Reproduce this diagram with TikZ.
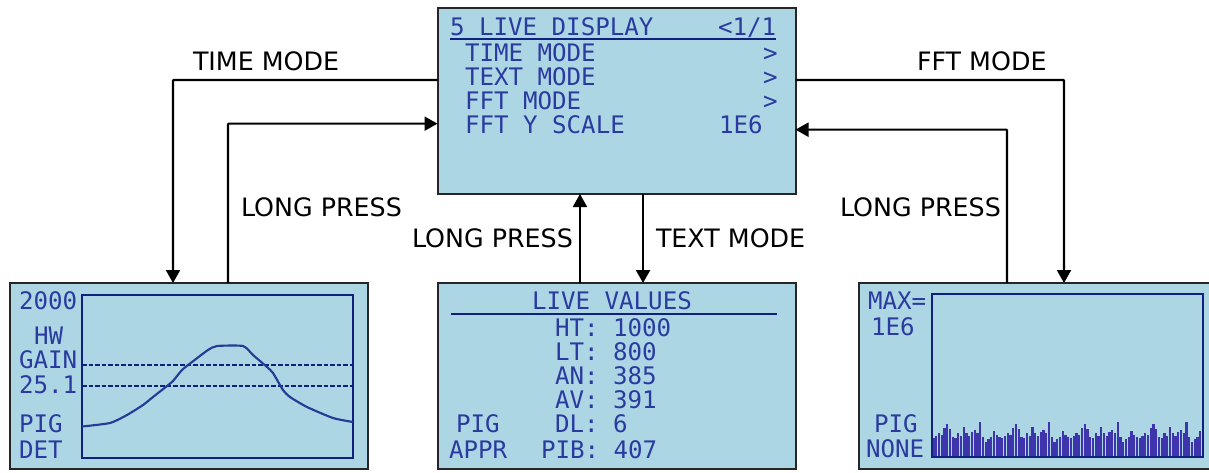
\documentclass[tikz,border=0pt]{standalone}
\usepackage{fontspec}
\setmainfont{DejaVu Sans}
\setmonofont{DejaVu Sans Mono}
\usetikzlibrary{arrows.meta}
\definecolor{lcdbg}{RGB}{173,214,229}
\definecolor{lcdink}{RGB}{42,58,158}
\definecolor{navyline}{RGB}{18,32,125}
\definecolor{curveink}{RGB}{36,60,150}
\definecolor{barink}{RGB}{62,52,172}
\tikzset{
  x=0.75pt,y=-0.75pt,
  panel/.style={draw=black!85,line width=1.5pt,fill=lcdbg,minimum width=268.5pt,minimum height=139.5pt,inner sep=0pt,outer sep=0pt},
  lcd/.style={anchor=base west,inner sep=0pt,outer sep=0pt,text=lcdink,font=\ttfamily\fontsize{18.1pt}{20pt}\selectfont},
  lab/.style={anchor=base west,inner sep=0pt,outer sep=0pt,text=black,font=\fontsize{19pt}{22pt}\selectfont},
  conn/.style={line width=1.6pt,draw=black,rounded corners=0.5pt},
  arrowed/.style={conn,-{Triangle[length=9.75pt,width=10.5pt]}},
  frame/.style={draw=navyline,line width=1.3pt},
  rulel/.style={draw=navyline,line width=1.2pt},
  dashl/.style={draw=navyline,line width=1.2pt,dash pattern=on 3.4pt off 1.5pt},
  curve/.style={draw=curveink,line width=1.6pt,line join=round},
  barl/.style={draw=barink,line width=1.8pt}
}
\newcommand{\lcdtext}[4]{\node[lcd] (#1) at (#2,#3) {#4};}
\newcommand{\labtext}[4]{\node[lab] (#1) at (#2,#3) {#4};}
\begin{document}
\begin{tikzpicture}
\clip (0,0) rectangle (1209,472);
\fill[white] (0,0) rectangle (1209,472);
% panels
\node[panel] (top) at (616.5,101) {};
\node[panel] (left) at (189,376) {};
\node[panel] (mid) at (616.5,376) {};
\node[panel] (right) at (1038,376) {};
% connector ends
\coordinate (tlA) at ([yshift=15.75pt]top.west);
\coordinate (tlB) at ([yshift=-17pt]top.west);
\coordinate (trA) at ([yshift=15.75pt]top.east);
\coordinate (trB) at ([yshift=-21.5pt]top.east);
\coordinate (lA) at ([xshift=-12pt]left.north);
\coordinate (lB) at ([xshift=29.25pt]left.north);
\coordinate (mA) at ([xshift=-27.4pt]mid.north);
\coordinate (mB) at ([xshift=19.9pt]mid.north);
\coordinate (tA) at ([xshift=-27.4pt]top.south);
\coordinate (tB) at ([xshift=19.9pt]top.south);
\coordinate (rA) at ([xshift=-23.25pt]right.north);
\coordinate (rB) at ([xshift=19.5pt]right.north);
% connectors
\draw[arrowed] (tlA) -| (lA);
\draw[arrowed] (lB) |- (tlB);
\draw[arrowed] (mA) -- (tA);
\draw[arrowed] (tB) -- (mB);
\draw[arrowed] (trA) -| (rB);
\draw[arrowed] (rA) |- (trB);
% connector labels
\labtext{lbTime}{193}{70}{TIME MODE}
\labtext{lbLongL}{241}{216}{LONG PRESS}
\labtext{lbLongM}{412}{247}{LONG PRESS}
\labtext{lbText}{656}{247}{TEXT MODE}
\labtext{lbFft}{917}{70}{FFT MODE}
\labtext{lbLongR}{840}{216}{LONG PRESS}
% top panel
\lcdtext{a1}{450}{35}{5 LIVE DISPLAY}
\lcdtext{a2}{718}{35}{<1/1}
\draw[rulel] (450,38.7) -- (776,38.7);
\lcdtext{a3}{465}{61}{TIME MODE}
\lcdtext{a4}{465}{85}{TEXT MODE}
\lcdtext{a5}{465}{109}{FFT MODE}
\lcdtext{a6}{465}{133}{FFT Y SCALE}
\lcdtext{a7}{763}{61}{>}
\lcdtext{a8}{763}{85}{>}
\lcdtext{a9}{763}{109}{>}
\lcdtext{a10}{719}{133}{1E6}
% left panel
\draw[frame] (82,295) rectangle (353,458);
\draw[dashl] (82,365) -- (353,365);
\draw[dashl] (82,386) -- (353,386);
\draw[curve] plot[smooth,tension=0.35] coordinates {(82,426.5) (110,423) (127,415) (143,405) (153,397) (167,386) (173,381) (182,370) (192,362) (208,350) (217,346) (243,346) (253,355) (267,367) (273,373) (283,390) (290,397) (307,407) (333,418) (353,422)};
\lcdtext{b1}{19}{309}{2000}
\lcdtext{b2}{34}{344}{HW}
\lcdtext{b3}{19}{368}{GAIN}
\lcdtext{b4}{19}{393}{25.1}
\lcdtext{b5}{19}{432}{PIG}
\lcdtext{b6}{19}{458}{DET}
% middle panel
\lcdtext{c1}{532}{309}{LIVE VALUES}
\draw[rulel] (451,314) -- (777,314);
\lcdtext{c2}{555}{336}{HT: 1000}
\lcdtext{c3}{555}{360}{LT: 800}
\lcdtext{c4}{555}{384}{AN: 385}
\lcdtext{c5}{555}{408}{AV: 391}
\lcdtext{c6}{555}{432}{DL: 6}
\lcdtext{c7}{541}{458}{PIB: 407}
\lcdtext{c8}{456}{432}{PIG}
\lcdtext{c9}{449}{458}{APPR}
% right panel
\foreach \i in {0,...,97}{
  \pgfmathsetmacro{\vv}{{70,62,55,60,40,28,42,65,70,55,62,35,55,62,50,45,55,22,65,82,72,65,48,60,65}[int(mod(\i,25))]}
  \pgfmathsetmacro{\xx}{933.5+\i*2.75}
  \pgfmathsetmacro{\topy}{415+\vv/3}
  \draw[barl] (\xx,457) -- (\xx,\topy);
}
\draw[frame] (932,294) rectangle (1203,457);
\lcdtext{d1}{868}{309}{MAX=}
\lcdtext{d2}{871}{335}{1E6}
\lcdtext{d3}{874}{432}{PIG}
\lcdtext{d4}{866}{457}{NONE}
\end{tikzpicture}
\end{document}
